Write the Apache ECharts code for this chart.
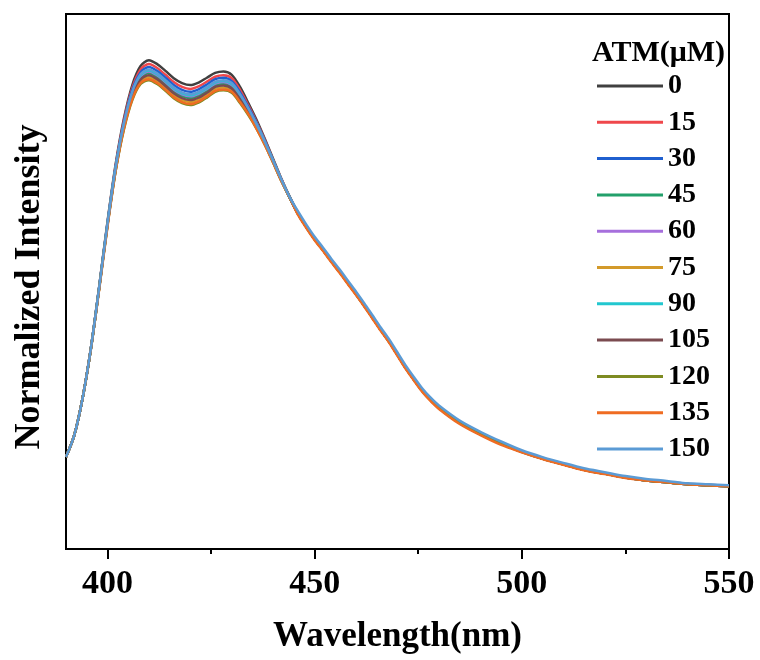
<!DOCTYPE html>
<html>
<head>
<meta charset="utf-8">
<script src="https://cdn.jsdelivr.net/npm/echarts@6/dist/echarts.min.js"></script>
<style>html,body{margin:0;padding:0;background:#fff}#c{width:760px;height:660px}</style>
</head>
<body>
<div id="c"></div>
<script>
// Wavelength grid (nm)
const wavelengths = [390,392,394,396,398,400,402,404,406,408,410,412,414,416,418,420,422,424,426,428,430,432,434,436,438,440,442,444,446,448,450,452,454,456,458,460,462,464,466,468,470,472,474,476,478,480,485,490,495,500,505,510,515,520,525,530,535,540,545,550];

const concentrations = ['0','15','30','45','60','75','90','105','120','135','150'];

const s0   = [0.189,0.234,0.310,0.413,0.539,0.672,0.792,0.886,0.954,0.993,1.005,0.997,0.983,0.968,0.958,0.954,0.959,0.969,0.979,0.982,0.975,0.950,0.917,0.882,0.843,0.802,0.761,0.724,0.691,0.664,0.639,0.617,0.594,0.572,0.549,0.526,0.502,0.477,0.452,0.428,0.401,0.374,0.350,0.327,0.308,0.292,0.261,0.238,0.218,0.201,0.187,0.175,0.164,0.156,0.148,0.142,0.138,0.134,0.132,0.130];
const s15  = [0.189,0.234,0.310,0.413,0.538,0.670,0.789,0.882,0.948,0.986,0.997,0.989,0.975,0.960,0.950,0.946,0.951,0.961,0.971,0.974,0.968,0.944,0.912,0.878,0.841,0.800,0.760,0.723,0.689,0.662,0.637,0.615,0.592,0.570,0.547,0.524,0.500,0.475,0.450,0.426,0.399,0.372,0.348,0.325,0.306,0.290,0.259,0.236,0.216,0.200,0.186,0.174,0.163,0.155,0.147,0.141,0.137,0.133,0.131,0.129];
const s30  = [0.189,0.234,0.310,0.412,0.538,0.669,0.787,0.878,0.944,0.980,0.991,0.983,0.969,0.954,0.944,0.940,0.945,0.955,0.966,0.969,0.962,0.939,0.909,0.876,0.839,0.799,0.759,0.723,0.689,0.662,0.637,0.615,0.592,0.570,0.547,0.524,0.500,0.475,0.450,0.426,0.399,0.372,0.348,0.325,0.306,0.290,0.259,0.236,0.216,0.200,0.186,0.174,0.163,0.155,0.147,0.141,0.137,0.133,0.131,0.129];
const s45  = [0.189,0.234,0.310,0.412,0.536,0.667,0.783,0.871,0.934,0.969,0.978,0.970,0.956,0.941,0.931,0.927,0.932,0.942,0.953,0.956,0.951,0.928,0.901,0.870,0.835,0.797,0.758,0.722,0.689,0.662,0.637,0.615,0.592,0.570,0.547,0.524,0.500,0.475,0.450,0.426,0.399,0.372,0.348,0.325,0.306,0.290,0.259,0.236,0.216,0.200,0.186,0.174,0.163,0.155,0.147,0.141,0.137,0.133,0.131,0.129];
const s60  = [0.189,0.234,0.310,0.412,0.537,0.667,0.784,0.873,0.937,0.972,0.982,0.974,0.960,0.945,0.935,0.931,0.936,0.946,0.957,0.960,0.954,0.932,0.903,0.872,0.836,0.797,0.758,0.723,0.689,0.662,0.637,0.615,0.592,0.570,0.547,0.524,0.500,0.475,0.450,0.426,0.399,0.372,0.348,0.325,0.306,0.290,0.259,0.236,0.216,0.200,0.186,0.174,0.163,0.155,0.147,0.141,0.137,0.133,0.131,0.129];
const s75  = [0.189,0.234,0.310,0.411,0.536,0.665,0.780,0.867,0.928,0.962,0.970,0.962,0.948,0.933,0.923,0.919,0.924,0.934,0.946,0.949,0.944,0.922,0.896,0.866,0.833,0.795,0.757,0.722,0.689,0.662,0.637,0.615,0.592,0.570,0.547,0.524,0.500,0.475,0.450,0.426,0.399,0.372,0.348,0.325,0.306,0.290,0.259,0.236,0.216,0.200,0.186,0.174,0.163,0.155,0.147,0.141,0.137,0.133,0.131,0.129];
const s90  = [0.189,0.234,0.310,0.412,0.537,0.668,0.785,0.874,0.938,0.974,0.984,0.976,0.962,0.947,0.937,0.933,0.938,0.948,0.959,0.962,0.956,0.933,0.904,0.873,0.837,0.798,0.758,0.723,0.689,0.662,0.637,0.615,0.592,0.570,0.547,0.524,0.500,0.475,0.450,0.426,0.399,0.372,0.348,0.325,0.306,0.290,0.259,0.236,0.216,0.200,0.186,0.174,0.163,0.155,0.147,0.141,0.137,0.133,0.131,0.129];
const s105 = [0.189,0.234,0.310,0.411,0.536,0.666,0.781,0.869,0.931,0.965,0.974,0.966,0.952,0.937,0.927,0.923,0.928,0.938,0.950,0.953,0.947,0.925,0.898,0.868,0.834,0.796,0.757,0.722,0.689,0.662,0.637,0.615,0.592,0.570,0.547,0.524,0.500,0.475,0.450,0.426,0.399,0.372,0.348,0.325,0.306,0.290,0.259,0.236,0.216,0.200,0.186,0.174,0.163,0.155,0.147,0.141,0.137,0.133,0.131,0.129];
const s120 = [0.189,0.234,0.310,0.411,0.535,0.664,0.778,0.863,0.923,0.956,0.964,0.956,0.942,0.927,0.917,0.913,0.918,0.928,0.940,0.943,0.938,0.917,0.892,0.864,0.831,0.794,0.756,0.722,0.689,0.662,0.637,0.615,0.592,0.570,0.547,0.524,0.500,0.475,0.450,0.426,0.399,0.372,0.348,0.325,0.306,0.290,0.259,0.236,0.216,0.200,0.186,0.174,0.163,0.155,0.147,0.141,0.137,0.133,0.131,0.129];
const s135 = [0.189,0.234,0.310,0.411,0.533,0.662,0.778,0.865,0.925,0.958,0.966,0.958,0.944,0.929,0.919,0.915,0.920,0.930,0.942,0.945,0.940,0.919,0.894,0.864,0.831,0.794,0.756,0.722,0.687,0.660,0.635,0.613,0.590,0.568,0.545,0.522,0.498,0.473,0.448,0.424,0.397,0.370,0.346,0.323,0.304,0.288,0.257,0.234,0.214,0.199,0.185,0.173,0.162,0.154,0.146,0.141,0.137,0.133,0.131,0.129];
const s150 = [0.189,0.234,0.310,0.412,0.537,0.668,0.785,0.876,0.940,0.976,0.986,0.978,0.964,0.949,0.939,0.935,0.940,0.950,0.961,0.964,0.958,0.935,0.906,0.873,0.837,0.798,0.759,0.723,0.694,0.667,0.642,0.620,0.597,0.575,0.552,0.529,0.505,0.480,0.455,0.431,0.404,0.377,0.353,0.330,0.311,0.295,0.264,0.241,0.221,0.203,0.189,0.177,0.166,0.158,0.150,0.144,0.140,0.135,0.133,0.131];

const seriesValues = [s0,s15,s30,s45,s60,s75,s90,s105,s120,s135,s150];
const colors = ['#404040','#ef474b','#1f5fcf','#23a06b','#a66fdc','#d39a2a','#22c7cf','#7b4b50','#7e8b22','#ef6c22','#5b9bd5'];

const majorTicks = [400,450,500,550];
const minorTicks = [425,475,525];

const FONT = '"Liberation Serif", "Times New Roman", serif';

const chart = echarts.init(document.getElementById('c'), null, {renderer:'canvas'});

const series = concentrations.map((name, k) => ({
  name: name,
  type: 'line',
  xAxisIndex: 0,
  yAxisIndex: 0,
  data: wavelengths.map((w, i) => [w, seriesValues[k][i]]),
  symbol: 'none',
  smooth: 0.3,
  lineStyle: {color: colors[k], width: 2.5},
  itemStyle: {color: colors[k]},
  emphasis: {disabled: true},
  animation: false
}));

chart.setOption({
  backgroundColor: '#fff',
  animation: false,
  title: {
    text: 'ATM(μM)',
    left: 592, top: 38, padding: 0,
    textStyle: {fontFamily: FONT, fontWeight: 'bold', fontSize: 30, color: '#000'}
  },
  legend: {
    orient: 'vertical',
    left: 597, top: 72, padding: 0,
    icon: 'rect',
    itemWidth: 66, itemHeight: 3, itemGap: 8.3,
    textStyle: {fontFamily: FONT, fontWeight: 'bold', fontSize: 28, color: '#000'},
    data: concentrations
  },
  graphic: [{
    type: 'text',
    x: 30, y: 287,
    rotation: Math.PI / 2,
    style: {
      text: 'Normalized Intensity',
      font: 'bold 36px "Liberation Serif", "Times New Roman", serif',
      fill: '#000',
      align: 'center',
      verticalAlign: 'middle'
    }
  }],
  grid: {
    left: 66, right: 31, top: 14, bottom: 111,
    show: true, borderColor: '#000', borderWidth: 2, backgroundColor: 'transparent'
  },
  xAxis: [{
    type: 'value', min: 390, max: 550,
    name: 'Wavelength(nm)', nameLocation: 'middle', nameGap: 70,
    nameTextStyle: {fontFamily: FONT, fontWeight: 'bold', fontSize: 35, color: '#000'},
    axisLine: {show: true, lineStyle: {color: '#000', width: 2}},
    axisTick: {show: true, inside: false, length: 10, lineStyle: {color: '#000', width: 2}, customValues: majorTicks},
    axisLabel: {show: true, margin: 18, fontFamily: FONT, fontWeight: 'bold', fontSize: 34, color: '#000', customValues: majorTicks},
    splitLine: {show: false}
  }, {
    type: 'value', min: 390, max: 550, position: 'bottom',
    axisLine: {show: false},
    axisTick: {show: true, inside: false, length: 5, lineStyle: {color: '#000', width: 2}, customValues: minorTicks},
    axisLabel: {show: false},
    splitLine: {show: false}
  }],
  yAxis: {
    type: 'value', min: 0, max: 1.1,
    axisLine: {show: true, lineStyle: {color: '#000', width: 2}},
    axisTick: {show: false},
    axisLabel: {show: false},
    splitLine: {show: false}
  },
  series: series
});
</script>
</body>
</html>
